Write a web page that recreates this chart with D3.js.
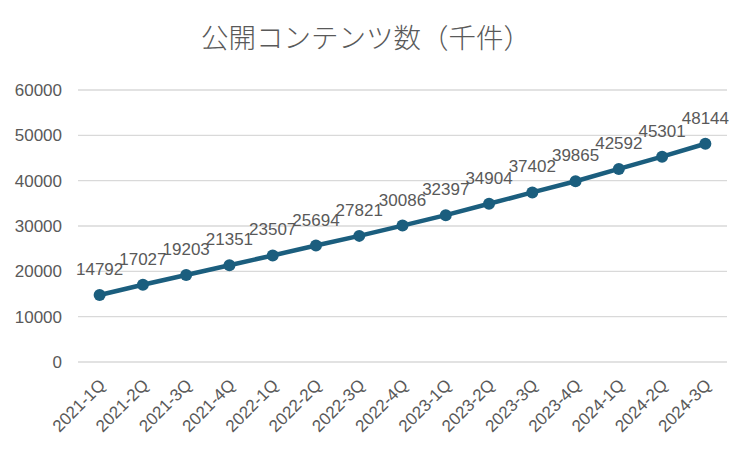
<!DOCTYPE html>
<html>
  <head>
    <meta charset="utf-8" />
    <script src="https://d3js.org/d3.v7.min.js"></script>
    <style>
      body { margin: 0; background: #fff; }
      text { font-family: "Liberation Sans", Arial, sans-serif; fill: #595959; }
      .title { font-family: "Noto Sans CJK JP", sans-serif; font-weight: 300; }
    </style>
  </head>
  <body>
    <div id="chart"></div>
    <script>
      const quarters = [
        "2021-1Q", "2021-2Q", "2021-3Q", "2021-4Q",
        "2022-1Q", "2022-2Q", "2022-3Q", "2022-4Q",
        "2023-1Q", "2023-2Q", "2023-3Q", "2023-4Q",
        "2024-1Q", "2024-2Q", "2024-3Q",
      ];
      const contents = [
        14792, 17027, 19203, 21351, 23507, 25694, 27821, 30086,
        32397, 34904, 37402, 39865, 42592, 45301, 48144,
      ];
      const yTicks = [0, 10000, 20000, 30000, 40000, 50000, 60000];
      const title = "公開コンテンツ数（千件）";

      const data = quarters.map((q, i) => ({ q, v: contents[i] }));

      const W = 750, H = 450;
      const margin = { top: 90, right: 23, bottom: 88, left: 78 };
      const width = W - margin.left - margin.right;
      const height = H - margin.top - margin.bottom;

      const svg = d3.select("#chart").append("svg")
        .attr("width", W).attr("height", H);

      const g = svg.append("g")
        .attr("transform", `translate(${margin.left},${margin.top})`);

      const x = d3.scalePoint().domain(quarters).range([0, width]).padding(0.5);
      const y = d3.scaleLinear().domain([0, 60000]).range([height, 0]);

      // gridlines
      g.append("g")
        .selectAll("line")
        .data(yTicks)
        .join("line")
        .attr("x1", 0).attr("x2", width)
        .attr("y1", d => y(d)).attr("y2", d => y(d))
        .attr("stroke", "#d9d9d9").attr("stroke-width", 1.3);

      // y axis
      const yAxis = g.append("g")
        .call(d3.axisLeft(y).tickValues(yTicks).tickSize(0).tickPadding(16).tickFormat(d3.format("d")));
      yAxis.select(".domain").remove();
      yAxis.selectAll("text").style("font-size", "17px").attr("fill", "#595959");

      // x axis
      const xAxis = g.append("g")
        .attr("transform", `translate(0,${height})`)
        .call(d3.axisBottom(x).tickSize(0));
      xAxis.select(".domain").remove();
      xAxis.selectAll("text")
        .style("font-size", "17px")
        .attr("fill", "#595959")
        .attr("text-anchor", "end")
        .attr("dx", 0).attr("dy", 0)
        .attr("transform", "translate(4,22) rotate(-45)");

      // line
      g.append("path")
        .datum(data)
        .attr("fill", "none")
        .attr("stroke", "#1b5e7e")
        .attr("stroke-width", 4.5)
        .attr("stroke-linejoin", "round")
        .attr("d", d3.line().x(d => x(d.q)).y(d => y(d.v)));

      g.append("g")
        .selectAll("circle")
        .data(data)
        .join("circle")
        .attr("cx", d => x(d.q))
        .attr("cy", d => y(d.v))
        .attr("r", 6)
        .attr("fill", "#1b5e7e");

      // data labels
      g.append("g")
        .selectAll("text")
        .data(data)
        .join("text")
        .attr("x", d => x(d.q))
        .attr("y", d => y(d.v) - 20)
        .attr("text-anchor", "middle")
        .style("font-size", "17px")
        .attr("fill", "#404040")
        .text(d => d.v);

      // title
      svg.append("text")
        .attr("class", "title")
        .attr("x", 366)
        .attr("y", 48)
        .attr("text-anchor", "middle")
        .style("font-size", "27.5px")
        .text(title);
    </script>
  </body>
</html>
